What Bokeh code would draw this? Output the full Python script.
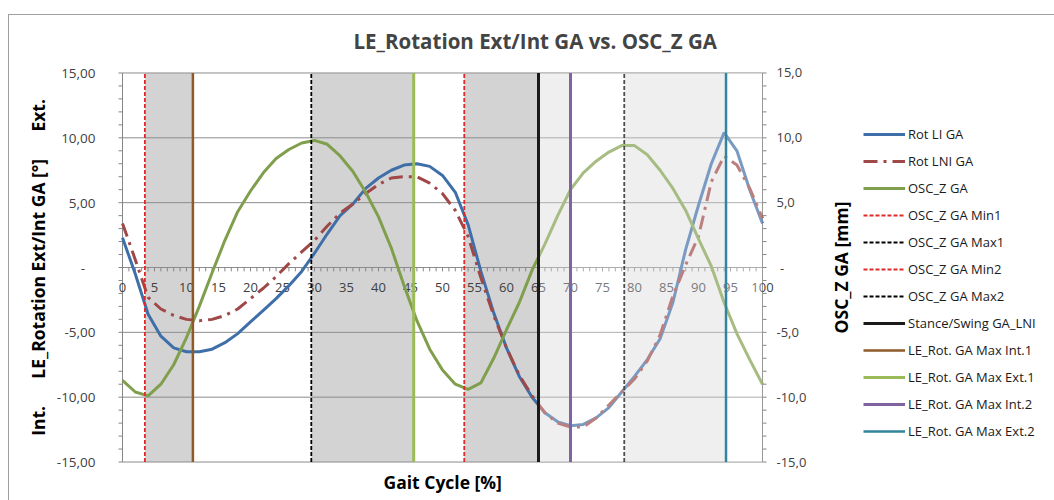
import math
from bokeh.plotting import figure
from bokeh.models import Range1d, FixedTicker, Legend, LegendItem, ColumnDataSource, Title
from bokeh.core.properties import value
from bokeh.embed import file_html
from bokeh.resources import INLINE

# ---------------- data ----------------
gait = list(range(0, 101, 2))
rot_li = [2.3, -0.5, -3.6, -5.3, -6.2, -6.5, -6.5, -6.3, -5.8, -5.1,
          -4.2, -3.3, -2.4, -1.4, -0.3, 1.1, 2.6, 4.0, 4.9, 6.1,
          6.9, 7.5, 7.9, 8.0, 7.8, 7.1, 5.8, 3.3, -0.3, -3.5,
          -6.2, -8.4, -10.0, -11.2, -11.9, -12.2, -12.1, -11.6, -10.8, -9.6,
          -8.4, -7.1, -5.5, -2.7, 1.4, 4.8, 8.0, 10.4, 9.0, 6.0, 3.4]
rot_lni = [3.4, 0.6, -2.3, -3.2, -3.7, -4.0, -4.1, -4.0, -3.7, -3.2,
           -2.4, -1.6, -0.7, 0.3, 1.2, 2.1, 3.2, 4.2, 4.9, 5.7,
           6.4, 6.9, 7.0, 7.0, 6.5, 5.7, 4.4, 2.4, -0.8, -3.7,
           -6.2, -8.3, -9.9, -11.2, -12.0, -12.3, -12.3, -11.6, -10.6, -9.6,
           -8.6, -7.2, -5.2, -2.2, 0.2, 2.4, 6.6, 8.6, 7.9, 6.1, 3.8]
osc_z = [-8.7, -9.6, -9.9, -9.0, -7.5, -5.4, -3.0, -0.4, 2.1, 4.3,
         5.9, 7.3, 8.4, 9.1, 9.6, 9.8, 9.5, 8.6, 7.4, 5.8,
         3.9, 1.5, -1.4, -4.1, -6.3, -7.9, -9.0, -9.4, -8.9, -7.0,
         -4.8, -2.7, -0.2, 1.8, 4.0, 6.0, 7.3, 8.2, 8.9, 9.4,
         9.4, 8.7, 7.5, 6.1, 4.4, 2.2, 0.1, -2.7, -5.1, -7.1, -9.0]

# event positions (% gait cycle)
osc_min1 = 3.5
osc_max1 = 29.5
osc_min2 = 53.4
osc_max2 = 78.4
stance_swing = 65.0
rot_int1 = 11.0
rot_ext1 = 45.5
rot_int2 = 70.0
rot_ext2 = 94.3

x_min, x_max = 0, 100
y_min, y_max = -15, 15
x_ticks = list(range(0, 101, 5))
x_minor = list(range(0, 101, 1))
y_ticks = [-15, -10, -5, 0, 5, 10, 15]
y_minor = list(range(-15, 16, 1))
left_tick_labels = ["-15,00", "-10,00", "-5,00", "-\u00a0\u00a0\u00a0", "5,00", "10,00", "15,00"]
right_tick_labels = ["-15,0", "-10,0", "-5,0", "\u00a0-", "5,0", "10,0", "15,0"]

TITLE = "LE_Rotation Ext/Int GA vs. OSC_Z GA"
SP = "\u00a0" * 6
LEFT_LABEL = "Int." + SP + "LE_Rotation Ext/Int GA [°]" + SP + "Ext."
RIGHT_LABEL = "OSC_Z GA [mm]"
X_LABEL = "Gait Cycle [%]"

FONT = "Open Sans"
AX = "#868686"
GRID = "#8c8c8c"
TXT = "#404040"

# layout (pixels)
PX_PER_X = 6.4
LEFT_BORDER = 106
XPAD, YPAD = 2.5, 0.5
FRAME_W = 1054 - LEFT_BORDER
x_end = x_min - XPAD + FRAME_W / PX_PER_X

# ---------------- figure ----------------
p = figure(frame_width=FRAME_W, frame_height=402, output_backend="svg", toolbar_location=None,
           x_range=Range1d(x_min - XPAD, x_end),
           y_range=Range1d(y_min - YPAD, y_max + YPAD),
           min_border_left=LEFT_BORDER, min_border_right=0, min_border_top=66,
           min_border_bottom=32, title=TITLE)
p.extra_y_ranges = {"osc": Range1d(y_min - YPAD, y_max + YPAD)}
p.border_fill_color = None
p.background_fill_color = None
p.outline_line_color = None
p.styles = {"background": "linear-gradient(#a0a0a0,#a0a0a0) 8px 14px / 1046px 1px no-repeat, "
                          "linear-gradient(#a0a0a0,#a0a0a0) 8px 14px / 1px 486px no-repeat, white"}

p.title.text_font = FONT
p.title.text_font_size = "20.5px"
p.title.text_font_style = "bold"
p.title.align = "left"
p.title.offset = 353 - LEFT_BORDER
p.title.standoff = 24

p.xgrid.visible = False
p.ygrid.visible = False
p.xaxis.visible = False

xlab = Title(text=X_LABEL, align="left", offset=383 - LEFT_BORDER, vertical_align="top",
             standoff=2, text_font=FONT, text_font_size="17.5px", text_font_style="bold",
             text_color="black")
p.add_layout(xlab, "below")

la = p.yaxis[0]
la.ticker = FixedTicker(ticks=y_ticks)
la.major_label_overrides = dict(zip(y_ticks, left_tick_labels))
la.axis_line_color = None
la.major_tick_line_color = None
la.minor_tick_line_color = None
la.major_tick_out = 0
la.minor_tick_out = 0
la.major_label_text_font = FONT
la.major_label_text_font_size = "13.5px"
la.major_label_text_color = TXT
la.major_label_standoff = 11
la.axis_label = LEFT_LABEL
la.axis_label_text_font = FONT
la.axis_label_text_font_size = "17.5px"
la.axis_label_text_font_style = "bold"
la.axis_label_text_color = "black"
la.axis_label_standoff = 4

# shaded phases
p.quad(left=[osc_min1, osc_max1, osc_min2, stance_swing, osc_max2],
       right=[rot_int1, rot_ext1, stance_swing, rot_int2, rot_ext2],
       bottom=y_min, top=y_max,
       fill_color=["#d3d3d3", "#d3d3d3", "#d3d3d3", "#e9e9e9", "#e9e9e9"],
       line_color=None)

# horizontal grid lines and axis lines
p.segment(x0=x_min, x1=x_max, y0=y_ticks, y1=y_ticks, line_color=GRID, line_width=1)
p.segment(x0=[x_min, x_max], x1=[x_min, x_max], y0=y_min, y1=y_max, line_color=AX, line_width=1)
tick_x = 4 / PX_PER_X
p.segment(x0=x_min - tick_x, x1=x_min, y0=y_minor, y1=y_minor, line_color=AX)
p.segment(x0=x_max, x1=x_max + tick_x, y0=y_minor, y1=y_minor, line_color=AX)
# x axis at zero: ticks and labels
p.segment(x0=x_minor, y0=0, x1=x_minor, y1=-0.3, line_color=AX, line_width=1)
src_xl = ColumnDataSource(dict(x=x_ticks, y=[0] * len(x_ticks),
                               t=[str(v) for v in x_ticks]))
p.text(x="x", y="y", text="t", source=src_xl, text_align="center",
       text_baseline="middle", y_offset=20, text_font=value(FONT),
       text_font_size="13px", text_color=TXT)

# right (OSC_Z) axis labels
src_yr = ColumnDataSource(dict(x=[x_max] * len(y_ticks), y=y_ticks, t=right_tick_labels))
p.text(x="x", y="y", text="t", source=src_yr, y_range_name="osc", text_align="left",
       text_baseline="middle", x_offset=14, text_font=value(FONT),
       text_font_size="13px", text_color=TXT)
p.text(x=[x_max], y=[(y_min + y_max) / 2], text=[RIGHT_LABEL], y_range_name="osc",
       angle=math.pi / 2, text_align="center", text_baseline="middle", x_offset=78,
       text_font=value(FONT), text_font_size="17.5px", text_font_style="bold",
       text_color="black")

# curves
r_li = p.line(gait, rot_li, line_color="#3f6fa8", line_width=3)
r_lni = p.line(gait, rot_lni, line_color="#a04848", line_width=3, line_dash="14 6 3 6")
r_osc = p.line(gait, osc_z, y_range_name="osc", line_color="#809f4d", line_width=3)


def vline(x, color, width, dash="solid"):
    return p.line([x, x], [y_min, y_max], line_color=color, line_width=width, line_dash=dash)


r_min1 = vline(osc_min1, "#e02a2a", 1.8, "4 2")
r_max1 = vline(osc_max1, "black", 1.8, "4 2")
r_min2 = vline(osc_min2, "#e02a2a", 1.8, "4 2")
r_max2 = vline(osc_max2, "black", 1.8, "4 2")

# washed-out swing phase
p.quad(left=[stance_swing], right=[x_max], bottom=y_min, top=y_max,
       fill_color="white", fill_alpha=0.3, line_color=None)

r_stance = vline(stance_swing, "#1a1a1a", 3)
r_int1 = vline(rot_int1, "#8f5a2a", 2.5)
r_ext1 = vline(rot_ext1, "#9bbb59", 3)
r_int2 = vline(rot_int2, "#8064a2", 3)
r_ext2 = vline(rot_ext2, "#31859c", 2.5)

items = [("Rot LI GA", r_li), ("Rot LNI GA", r_lni), ("OSC_Z GA", r_osc),
         ("OSC_Z GA Min1", r_min1), ("OSC_Z GA Max1", r_max1),
         ("OSC_Z GA Min2", r_min2), ("OSC_Z GA Max2", r_max2),
         ("Stance/Swing GA_LNI", r_stance), ("LE_Rot. GA Max Int.1", r_int1),
         ("LE_Rot. GA Max Ext.1", r_ext1), ("LE_Rot. GA Max Int.2", r_int2),
         ("LE_Rot. GA Max Ext.2", r_ext2)]
legend = Legend(items=[LegendItem(label=l, renderers=[r]) for l, r in items],
                location=(863 - LEFT_BORDER, 27), glyph_width=42, glyph_height=20,
                label_height=20, spacing=7, padding=10, margin=0,
                border_line_color=None, background_fill_alpha=0,
                label_text_font=FONT, label_text_font_size="13px",
                label_text_color="#1a1a1a", label_standoff=3)
p.add_layout(legend)

open("out.html", "w").write(file_html(p, INLINE))
